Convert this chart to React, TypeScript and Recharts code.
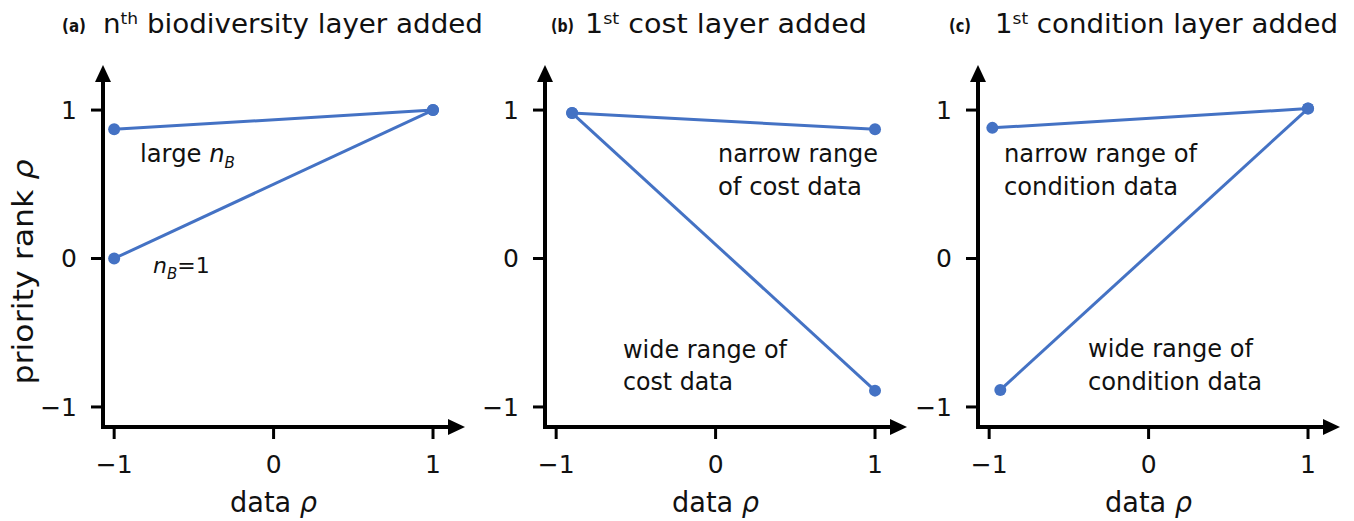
import { LineChart, Line, XAxis, YAxis } from "recharts";

const xTicks = [-1, 0, 1];
const yTicks = [-1, 0, 1];

// (a) nth biodiversity layer added
const aLargeX = [-1, 1];
const aLargeY = [0.87, 1.0];
const aOneX = [-1, 1];
const aOneY = [0.0, 1.0];

// (b) 1st cost layer added
const bNarrowX = [-0.9, 1];
const bNarrowY = [0.98, 0.87];
const bWideX = [-0.9, 1];
const bWideY = [0.98, -0.89];

// (c) 1st condition layer added
const cNarrowX = [-0.98, 1];
const cNarrowY = [0.88, 1.01];
const cWideX = [-0.93, 1];
const cWideY = [-0.885, 1.01];

const X_DOMAIN: [number, number] = [-1.07, 1.094];
const Y_DOMAIN: [number, number] = [-1.135, 1.189];
const PLOT_W = 345;
const PLOT_TOP = 82;
const PLOT_BOTTOM = 427;
const AXIS_W = 80;
const BLUE = "#4472C4";
const INK = "#111";
const FONT = "'DejaVu Sans', 'Open Sans', sans-serif";

const toRows = (xs: number[], ys: number[]) => xs.map((x, i) => ({ x, y: ys[i] }));
const fmt = (v: number) => (v < 0 ? `\u2212${Math.abs(v)}` : `${v}`);

type PanelProps = {
  left: number;
  series: { x: number[]; y: number[] }[];
};

function Panel({ left, series }: PanelProps) {
  return (
    <div style={{ position: "absolute", left: left - AXIS_W, top: 0 }}>
      <LineChart
        width={AXIS_W + PLOT_W + 30}
        height={521}
        margin={{ top: PLOT_TOP, right: 30, left: 0, bottom: 0 }}
      >
        <XAxis
          type="number"
          dataKey="x"
          domain={X_DOMAIN}
          ticks={xTicks}
          tickFormatter={fmt}
          height={521 - PLOT_BOTTOM}
          axisLine={{ stroke: "#000", strokeWidth: 4, strokeLinecap: "square" }}
          tickLine={{ stroke: "#000", strokeWidth: 3 }}
          tickSize={12}
          tickMargin={16}
          tick={{ fontSize: 25, fill: INK, fontFamily: FONT }}
        />
        <YAxis
          type="number"
          dataKey="y"
          domain={Y_DOMAIN}
          ticks={yTicks}
          tickFormatter={fmt}
          width={AXIS_W}
          axisLine={{ stroke: "#000", strokeWidth: 4, strokeLinecap: "square" }}
          tickLine={{ stroke: "#000", strokeWidth: 3 }}
          tickSize={12}
          tickMargin={14}
          tick={{ fontSize: 25, fill: INK, fontFamily: FONT }}
        />
        {series.map((s, i) => (
          <Line
            key={i}
            data={toRows(s.x, s.y)}
            dataKey="y"
            type="linear"
            stroke={BLUE}
            strokeWidth={3}
            dot={{ r: 6, fill: BLUE, stroke: BLUE, strokeWidth: 0 }}
            activeDot={false}
            isAnimationActive={false}
          />
        ))}
      </LineChart>
    </div>
  );
}

const PANEL_LEFT = [103, 545, 978];
const xScale = PLOT_W / (X_DOMAIN[1] - X_DOMAIN[0]);
const zeroX = (left: number) => left + (0 - X_DOMAIN[0]) * xScale;

function Arrows({ left }: { left: number }) {
  const r = left + PLOT_W;
  return (
    <g fill="#000">
      <polygon points={`${r},${PLOT_BOTTOM - 8} ${r + 17},${PLOT_BOTTOM} ${r},${PLOT_BOTTOM + 8}`} />
      <polygon points={`${left - 8},${PLOT_TOP} ${left},${PLOT_TOP - 17} ${left + 8},${PLOT_TOP}`} />
    </g>
  );
}

const fit = { lengthAdjust: "spacingAndGlyphs" } as const;

export default function App() {
  return (
    <div style={{ position: "relative", width: 1354, height: 521, background: "#fff", overflow: "hidden" }}>
      <style>{`body{margin:0}`}</style>
      <Panel left={PANEL_LEFT[0]} series={[{ x: aLargeX, y: aLargeY }, { x: aOneX, y: aOneY }]} />
      <Panel left={PANEL_LEFT[1]} series={[{ x: bNarrowX, y: bNarrowY }, { x: bWideX, y: bWideY }]} />
      <Panel left={PANEL_LEFT[2]} series={[{ x: cNarrowX, y: cNarrowY }, { x: cWideX, y: cWideY }]} />
      <svg
        width={1354}
        height={521}
        style={{ position: "absolute", left: 0, top: 0, pointerEvents: "none" }}
        fontFamily={FONT}
        fill={INK}
      >
        {PANEL_LEFT.map((l) => (
          <Arrows key={l} left={l} />
        ))}

        {/* titles */}
        <text x={62} y={32} fontSize={17} fontWeight="bold" textLength={24} {...fit}>(a)</text>
        <text x={103} y={33} fontSize={26} textLength={380} {...fit}>
          n<tspan dy={-9} fontSize={16}>th</tspan>
          <tspan dy={9}> biodiversity layer added</tspan>
        </text>
        <text x={551} y={32} fontSize={17} fontWeight="bold" textLength={23} {...fit}>(b)</text>
        <text x={585} y={33} fontSize={26} textLength={282} {...fit}>
          1<tspan dy={-9} fontSize={16}>st</tspan>
          <tspan dy={9}> cost layer added</tspan>
        </text>
        <text x={949} y={32} fontSize={17} fontWeight="bold" textLength={22} {...fit}>(c)</text>
        <text x={995} y={33} fontSize={26} textLength={343} {...fit}>
          1<tspan dy={-9} fontSize={16}>st</tspan>
          <tspan dy={9}> condition layer added</tspan>
        </text>

        {/* axis labels */}
        <text transform="translate(33,272) rotate(-90)" textAnchor="middle" fontSize={28} textLength={225} {...fit}>
          priority rank <tspan fontStyle="italic">ρ</tspan>
        </text>
        {PANEL_LEFT.map((l) => (
          <text key={l} x={zeroX(l)} y={512} textAnchor="middle" fontSize={28} textLength={87} {...fit}>
            data <tspan fontStyle="italic">ρ</tspan>
          </text>
        ))}

        {/* annotations (a) */}
        <text x={140} y={162} fontSize={24} textLength={95} {...fit}>
          large <tspan fontStyle="italic">n</tspan>
          <tspan fontStyle="italic" fontSize={15} dy={6}>B</tspan>
        </text>
        <text x={153} y={273} fontSize={22}>
          <tspan fontStyle="italic">n</tspan>
          <tspan fontStyle="italic" fontSize={15} dy={6}>B</tspan>
          <tspan dy={-6}>=1</tspan>
        </text>

        {/* annotations (b) */}
        <text x={718} y={162} fontSize={24} textLength={160} {...fit}>narrow range</text>
        <text x={718} y={195} fontSize={24} textLength={144} {...fit}>of cost data</text>
        <text x={623} y={358} fontSize={24} textLength={164} {...fit}>wide range of</text>
        <text x={623} y={390} fontSize={24} textLength={110} {...fit}>cost data</text>

        {/* annotations (c) */}
        <text x={1004} y={162} fontSize={24} textLength={193} {...fit}>narrow range of</text>
        <text x={1004} y={195} fontSize={24} textLength={174} {...fit}>condition data</text>
        <text x={1088} y={357} fontSize={24} textLength={165} {...fit}>wide range of</text>
        <text x={1088} y={390} fontSize={24} textLength={174} {...fit}>condition data</text>
      </svg>
    </div>
  );
}
